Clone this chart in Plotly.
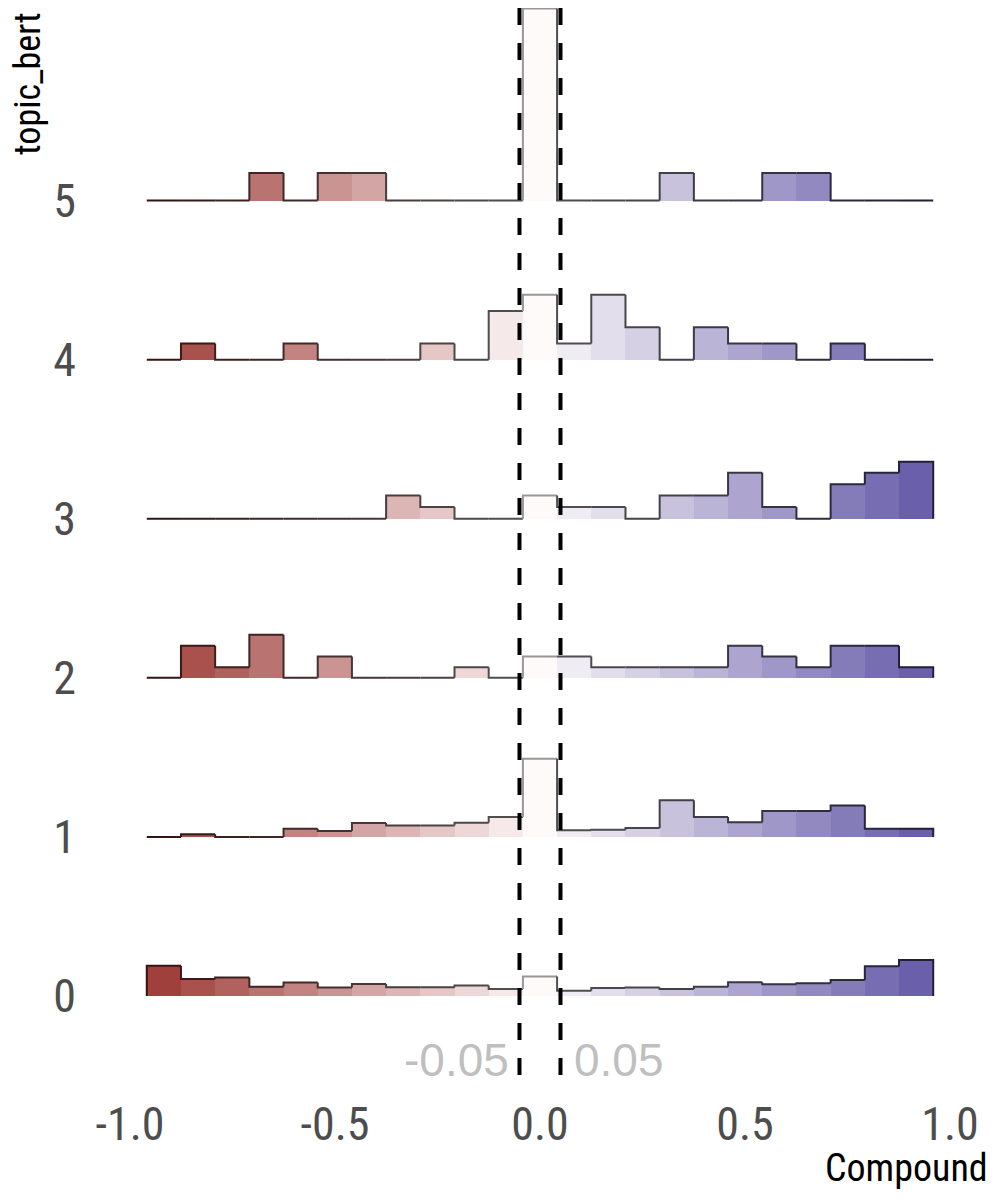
import numpy as np
import plotly.graph_objects as go

## share of each topic's posts per compound bin (%), bins left -> right
TOPIC_0 = [8.5, 4.8, 5.2, 2.6, 3.8, 2.4, 3.4, 2.5, 2.5, 3.0, 2.0, 5.5, 1.5, 2.3, 2.4, 2.0, 2.6, 3.9, 3.3, 3.6, 4.5, 8.4, 10.1]
TOPIC_1 = [0, 0.8, 0, 0, 2.3, 1.7, 3.9, 3.2, 3.2, 4.0, 5.6, 21.9, 1.9, 2.0, 2.5, 10.3, 5.6, 4.1, 7.3, 7.3, 8.8, 2.3, 2.3]
TOPIC_2 = [0, 9.0, 3.0, 12.1, 0, 6.0, 0, 0, 0, 3.0, 0, 6.0, 6.0, 3.0, 3.0, 3.0, 3.0, 9.0, 6.0, 3.0, 9.0, 9.0, 3.0]
TOPIC_3 = [0, 0, 0, 0, 0, 0, 0, 6.5, 3.3, 0, 0, 6.5, 3.3, 3.3, 0, 6.5, 6.5, 12.9, 3.3, 0, 9.7, 12.9, 16.0]
TOPIC_4 = [0, 4.5, 0, 0, 4.5, 0, 0, 0, 4.5, 0, 13.6, 18.2, 4.5, 18.2, 9.1, 0, 9.1, 4.5, 4.5, 0, 4.5, 0, 0]
TOPIC_5 = [0, 0, 0, 7.7, 0, 7.7, 7.7, 0, 0, 0, 0, 53.8, 0, 0, 0, 7.7, 0, 0, 7.7, 7.7, 0, 0, 0]

topics = [0, 1, 2, 3, 4, 5]
shares = [TOPIC_0, TOPIC_1, TOPIC_2, TOPIC_3, TOPIC_4, TOPIC_5]

THRESHOLDS = [-0.05, 0.05]
x_ticks = [-1.0, -0.5, 0.0, 0.5, 1.0]
x_ticktext = ['-1.0', '-0.5', '0.0', '0.5', '1.0']

BIN_W = 0.0834
ROW_PCT = 44.6   # % that fills one ridge row

n_bins = len(TOPIC_0)
centers = (np.arange(n_bins) - n_bins // 2) * BIN_W
edges = np.append(centers - BIN_W / 2, centers[-1] + BIN_W / 2)

LOW = np.array([151, 47, 43])
MID = np.array([254, 250, 250])
HIGH = np.array([92, 81, 164])


def fill_rgb(x):
    t = min(abs(x), 1.0)
    end = LOW if x < 0 else HIGH
    return MID + (end - MID) * t


def rgb(c):
    c = np.clip(c, 0, 255).round().astype(int)
    return 'rgb(%d,%d,%d)' % tuple(c)


fill_colors = [rgb(fill_rgb(c)) for c in centers]
line_colors = []
for i, c in enumerate(centers):
    k = 0.6 if i == n_bins // 2 else 0.33
    line_colors.append(rgb(fill_rgb(c) * k))

TICK_FONT = 'Liberation Sans Narrow, Arial Narrow, Roboto Condensed, Liberation Sans, sans-serif'

fig = go.Figure()

## filled bins
for topic, share in zip(topics, shares):
    h = np.array(share) / ROW_PCT
    fig.add_trace(go.Bar(x=centers, y=h, base=topic, width=BIN_W,
                         marker=dict(color=fill_colors, line=dict(width=0)),
                         showlegend=False, hoverinfo='skip'))

## step outline, one trace per bin so every bin gets its own colour
for i in range(n_bins):
    xs, ys = [], []
    for topic, share in zip(topics, shares):
        h = np.array(share) / ROW_PCT
        prev = h[i - 1] if i > 0 else 0
        xs += [edges[i], edges[i], edges[i + 1]]
        ys += [topic + prev, topic + h[i], topic + h[i]]
        if i == n_bins - 1:
            xs += [edges[i + 1]]
            ys += [topic]
        xs.append(None)
        ys.append(None)
    fig.add_trace(go.Scatter(x=xs, y=ys, mode='lines',
                             line=dict(color=line_colors[i], width=2),
                             showlegend=False, hoverinfo='skip'))

## neutral band
for t in THRESHOLDS:
    fig.add_shape(type='line', x0=t, x1=t, xref='x', y0=1, y1=0, yref='paper',
                  line=dict(color='black', width=4, dash='17px,18px'), layer='above')

fig.add_annotation(x=THRESHOLDS[0], y=-0.40, xref='x', yref='y', text='-0.05',
                   showarrow=False, xanchor='right', yanchor='middle', xshift=-8,
                   font=dict(family='Liberation Sans, Arial, sans-serif', size=46, color='#bfbfbf'))
fig.add_annotation(x=THRESHOLDS[1], y=-0.40, xref='x', yref='y', text='0.05',
                   showarrow=False, xanchor='left', yanchor='middle', xshift=12,
                   font=dict(family='Liberation Sans, Arial, sans-serif', size=46, color='#bfbfbf'))

## axis titles
fig.add_annotation(x=-0.094, y=0.998, xref='paper', yref='paper', text='topic_bert',
                   textangle=-90, showarrow=False, xanchor='left', yanchor='top',
                   font=dict(family=TICK_FONT, size=36, color='black'))
fig.add_annotation(x=1.0, y=-0.069, xref='paper', yref='paper', text='Compound',
                   showarrow=False, xanchor='right', yanchor='middle',
                   font=dict(family=TICK_FONT, size=38, color='black'))

# page body has an 8px margin, so the figure is sized to fit inside it
fig.update_layout(width=982, height=1184, barmode='overlay', bargap=0,
                  plot_bgcolor='white', paper_bgcolor='white',
                  margin=dict(l=81, r=0, t=0, b=99), showlegend=False)
fig.update_xaxes(range=[-1.1, 1.0976], tickvals=x_ticks, ticktext=x_ticktext,
                 showgrid=False, zeroline=False, showline=False, ticks='',
                 tickfont=dict(family=TICK_FONT, size=46, color='#4d4d4d'))
fig.update_yaxes(range=[-0.609, 6.21], tickvals=topics, ticktext=[str(t) for t in topics],
                 showgrid=False, zeroline=False, showline=False, ticks='',
                 ticklabelstandoff=12,
                 tickfont=dict(family=TICK_FONT, size=46, color='#4d4d4d'))

fig.write_html("out.html")
